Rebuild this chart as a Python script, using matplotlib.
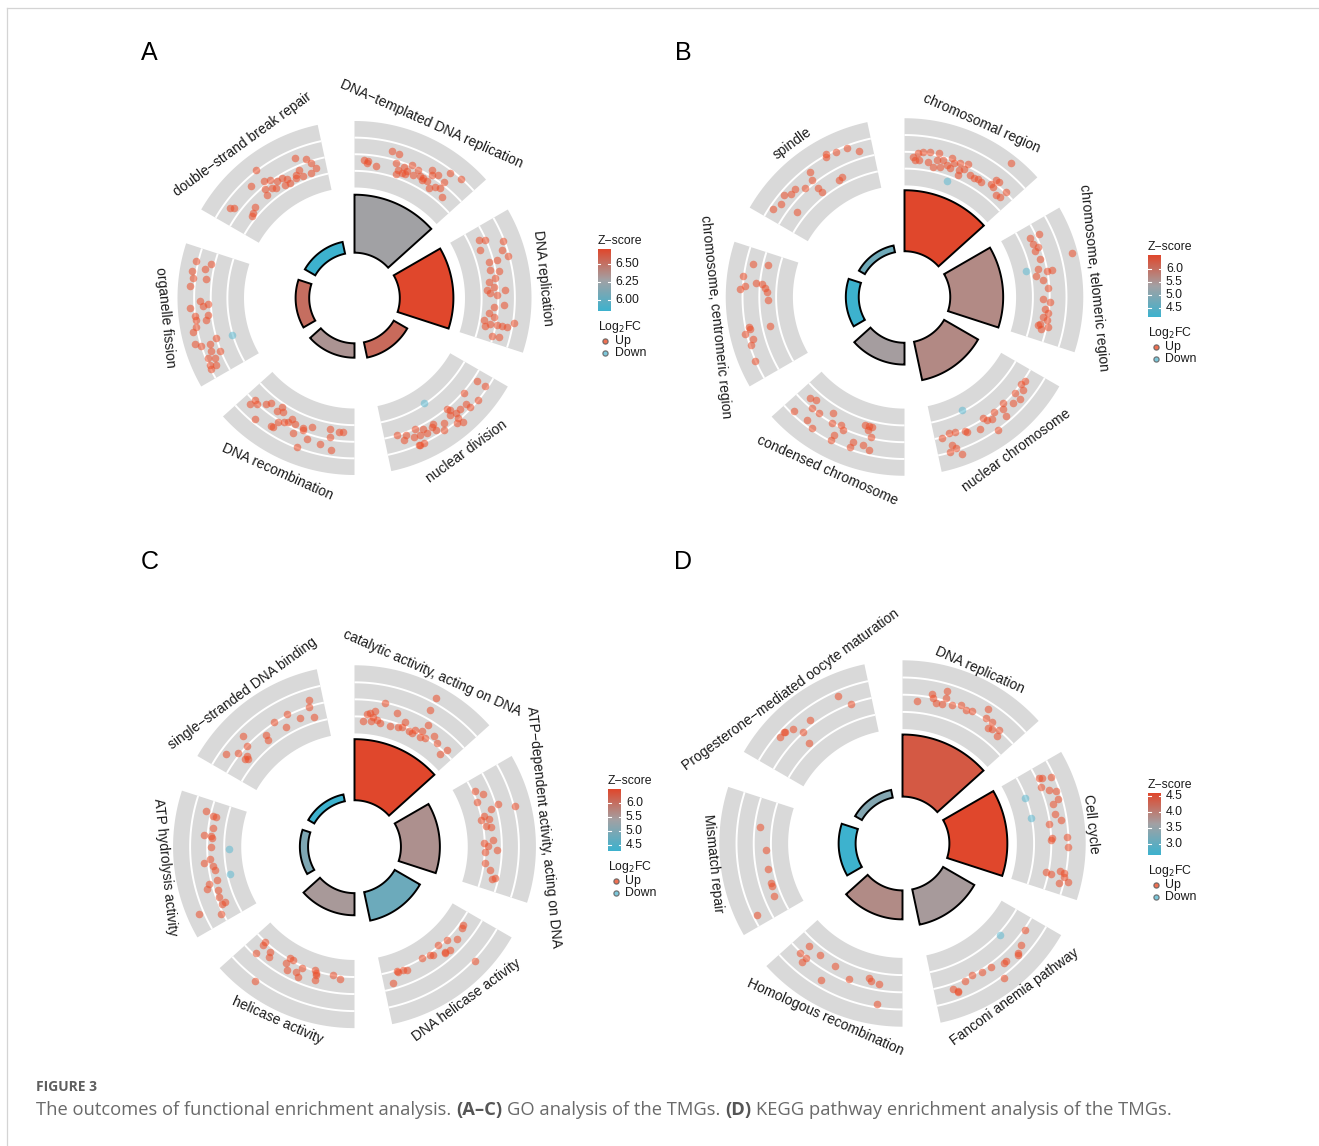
import numpy as np
import matplotlib
matplotlib.use("Agg")
import matplotlib.pyplot as plt
from matplotlib.patches import Polygon
from matplotlib.colors import LinearSegmentedColormap

plt.rcParams['font.family'] = ['Liberation Sans', 'DejaVu Sans']

W, H = 1319, 1146

# ---- panel A: GO (biological process) ----
terms_A = ["DNA\u2212templated DNA replication", "DNA replication", "nuclear division",
           "DNA recombination", "organelle fission", "double\u2212strand break repair"]
zscore_A = [6.27, 6.71, 6.54, 6.34, 6.52, 5.84]
bars_A = [14.5, 13.4, 3.9, 3.6, 3.4, 3.0]
up_A = [
    [(.08, .77), (.12, .66), (.11, .51), (.19, .39), (.30, 1.84), (.36, 1.79), (.36, 1.0), (.39, .52),
     (.43, .92), (.47, .64), (.43, .35), (.49, 1.31), (.46, .33), (.59, .74), (.62, .75), (.66, .65),
     (.62, .56), (.67, 1.35), (.71, 1.65), (.78, 1.44), (.71, .26), (.75, .69), (.85, .38), (.78, 2.34),
     (.87, 2.5), (.79, .83), (.39, .08), (.53, .6), (.55, 1.16), (.65, 1.7)],
    [(.10, .64), (.125, 1.15), (.19, .44), (.19, 2.51), (.25, 2.15), (.31, .8), (.31, 1.51), (.31, 2.52),
     (.38, .78), (.46, 1.07), (.48, .48), (.53, .85), (.58, .54), (.56, 1.8), (.60, 1.1), (.70, .84),
     (.68, 1.66), (.76, .47), (.79, .92), (.85, .73), (.85, 1.3), (.88, .38), (.85, 1.74), (.85, 2.15),
     (.81, 2.65), (.95, 1.15), (.94, 1.69), (.83, .13), (.40, 1.45), (.55, .28)],
    [(.085, 1.54), (.08, 2.37), (.20, 2.62), (.23, 1.3), (.28, 2.07), (.34, 1.97), (.28, 2.46), (.41, 1.51),
     (.42, 1.23), (.39, 2.0), (.51, 2.05), (.43, 2.72), (.39, 2.98), (.60, 1.75), (.67, 1.53), (.73, 1.22),
     (.59, 2.2), (.54, 2.5), (.66, 2.02), (.72, 1.9), (.82, 1.46), (.89, 1.19), (.85, 1.76), (.77, 1.8),
     (.58, 1.58), (.75, 2.66), (.72, 2.65), (.76, 2.6), (.43, 1.83), (.40, 2.49)],
    [(.18, 2.06), (.14, .46), (.22, .29), (.28, 1.7), (.38, .54), (.44, 1.04), (.39, 1.6), (.44, 2.54),
     (.51, 1.62), (.59, .94), (.62, 1.14), (.66, 1.35), (.67, 1.92), (.69, 2.0), (.83, .67), (.89, 1.23),
     (.82, 2.26), (.80, .41), (.72, .61), (.67, .42), (.57, .55), (.70, .14), (.92, 1.12), (.93, 1.61),
     (.21, .98), (.10, .41), (.45, .91), (.53, .8)],
    [(.90, 2.82), (.82, 3.0), (.77, 2.78), (.85, 1.92), (.78, 1.67), (.90, 1.48), (.71, 2.99), (.60, 2.12),
     (.58, 1.44), (.55, 2.98), (.49, 2.63), (.46, 2.53), (.49, 1.51), (.38, 2.97), (.29, 3.07), (.26, 2.62),
     (.26, 1.87), (.29, 1.21), (.20, 1.96), (.18, 1.26), (.16, 2.42), (.14, 1.91), (.11, 2.52), (.09, 2.02),
     (.08, 2.6), (.41, 2.62), (.45, 1.7), (.56, 1.87)],
    [(.12, 2.03), (.14, 1.76), (.21, .24), (.18, .17), (.26, .5), (.47, 2.68), (.36, 1.88), (.43, .94),
     (.41, .52), (.46, 1.56), (.51, 1.34), (.55, .91), (.60, .92), (.51, .45), (.63, .59), (.64, .21),
     (.72, .57), (.71, .32), (.77, 1.9), (.85, 1.47), (.88, 1.02), (.91, .5), (.85, .23), (.76, .89),
     (.77, .22), (.59, .3), (.48, .7)],
]
down_A = [[], [], [(.55, -.26)], [], [(.27, -.15)], []]

# ---- panel B: GO (cellular component) ----
terms_B = ["chromosomal region", "chromosome, telomeric region", "nuclear chromosome",
           "condensed chromosome", "chromosome, centromeric region", "spindle"]
zscore_B = [6.55, 5.65, 5.66, 5.40, 4.15, 4.75]
bars_B = [15.1, 13.1, 9.7, 5.4, 3.2, 1.7]
up_B = [
    [(.075, .82), (.11, 1.14), (.15, 1.32), (.21, 1.35), (.28, 1.41), (.09, .55), (.13, .59), (.21, .5),
     (.28, .83), (.33, .97), (.32, .36), (.37, .65), (.39, 1.31), (.42, .97), (.47, 1.17), (.53, 1.4),
     (.41, .48), (.48, .6), (.52, .9), (.59, .65), (.66, .69), (.70, .61), (.63, .55), (.78, .98),
     (.79, 1.46), (.81, .84), (.82, 1.52), (.875, .49), (.92, 1.27), (.91, .58), (.80, 3.33), (.26, .23),
     (.49, .17)],
    [(.10, .65), (.10, 1.52), (.16, .68), (.20, .97), (.22, .61), (.30, .8), (.38, .47), (.41, 1.13),
     (.41, 1.57), (.48, .75), (.55, 1.1), (.64, .66), (.67, 1.23), (.73, .84), (.76, 1.15), (.82, 1.1),
     (.86, .6), (.90, .82), (.87, 1.33), (.32, 3.49), (.44, .23), (.875, .49), (.80, .78)],
    [(.10, 1.31), (.14, 1.25), (.23, 1.26), (.17, 1.62), (.36, 1.14), (.30, 1.78), (.24, 1.94), (.46, 1.21),
     (.39, 1.55), (.51, 1.63), (.56, 1.1), (.63, 1.77), (.52, 2.63), (.55, 1.45), (.74, 1.35), (.82, 1.12),
     (.87, 1.05), (.94, 1.27), (.88, 2.05), (.91, 2.54), (.83, 3.01), (.86, 2.42), (.73, 1.53), (.41, 2.16)],
    [(.90, .6), (.85, .43), (.83, 1.14), (.76, 1.12), (.66, .5), (.92, 2.37), (.80, 2.16), (.73, 2.47),
     (.62, 1.21), (.55, 1.01), (.52, 1.32), (.36, .28), (.32, .29), (.29, .22), (.32, .6), (.28, 1.07),
     (.56, 2.01), (.57, 2.5), (.41, 1.9), (.33, 1.92), (.42, 2.39), (.27, 2.19)],
    [(.88, 2.02), (.90, .78), (.78, 2.67), (.71, 2.45), (.68, 2.85), (.74, 1.5), (.73, 1.06), (.70, .77),
     (.67, .53), (.60, .47), (.40, 2.32), (.38, 2.28), (.35, 2.77), (.30, 2.19), (.26, 2.48), (.37, .58),
     (.14, 2.69)],
    [(.08, 2.26), (.15, 1.98), (.21, 2.26), (.26, 1.87), (.30, 1.92), (.17, .52), (.37, 1.38), (.48, 2.18),
     (.45, 1.5), (.45, .69), (.46, .23), (.65, 2.68), (.64, 2.46), (.72, 2.44), (.81, 2.37), (.89, 1.88),
     (.64, .29), (.68, .37)],
]
down_B = [[(.42, -.61)], [(.37, -.5)], [(.69, -.34)], [], [], []]

# ---- panel C: GO (molecular function) ----
terms_C = ["catalytic activity, acting on DNA", "ATP\u2212dependent activity, acting on DNA",
           "DNA helicase activity", "helicase activity", "ATP hydrolysis activity",
           "single\u2212stranded DNA binding"]
zscore_C = [6.50, 5.60, 4.80, 5.49, 5.00, 4.29]
bars_C = [14.9, 9.5, 7.1, 5.4, 2.0, 1.7]
up_C = [
    [(.08, -.52), (.11, .05), (.14, .13), (.17, -.11), (.21, -.33), (.24, -.55), (.16, -.52), (.18, .4),
     (.25, 1.13), (.37, .59), (.42, -.45), (.46, .18), (.45, -.3), (.52, -.39), (.56, -.47), (.57, -.15),
     (.64, -.38), (.69, -.27), (.63, .05), (.65, .79), (.60, 1.91), (.60, 3.01), (.74, .27), (.80, -.05),
     (.89, -.5), (.91, .08), (.34, -.56)],
    [(.11, -.01), (.16, .49), (.21, -.23), (.28, 1.41), (.33, 2.7), (.30, .7), (.35, .02), (.38, .4),
     (.38, -.29), (.44, .05), (.45, .44), (.57, .52), (.62, .09), (.65, .78), (.67, -.17), (.77, -.09),
     (.83, .4), (.90, .68), (.89, .93), (.59, -.3)],
    [(.12, .08), (.15, .17), (.25, .38), (.32, -.12), (.41, -.28), (.36, .66), (.40, .49), (.41, .6),
     (.50, .11), (.52, -.05), (.60, -.19), (.28, 2.77), (.77, .1), (.80, -.05), (.85, -.01), (.86, -.1),
     (.92, .76)],
    [(.90, -.11), (.89, .12), (.89, .98), (.81, .18), (.79, .58), (.625, -.31), (.63, .19), (.59, -.32),
     (.49, .0), (.52, .42), (.60, .67), (.49, .73), (.37, -.26), (.35, -.04), (.34, .53), (.35, .1),
     (.20, -.2), (.13, -.01), (.76, 2.86)],
    [(.91, 1.64), (.88, .97), (.88, .76), (.78, .79), (.72, 1.5), (.71, .91), (.625, .86), (.52, 1.0),
     (.50, 1.52), (.46, .81), (.43, .71), (.34, .7), (.325, 1.41), (.29, 1.73), (.26, .84), (.20, .93),
     (.14, .96), (.14, .69), (.07, 1.37), (.14, 3.03), (.70, .85)],
    [(.12, 2.09), (.18, 1.4), (.18, .58), (.21, .63), (.27, 1.21), (.31, 2.03), (.45, .8), (.44, .4),
     (.57, 1.29), (.63, .4), (.69, 1.33), (.77, .58), (.89, 1.72), (.875, 1.18), (.89, .28), (.20, .44)],
]
down_C = [[], [], [], [], [(.60, -.58), (.37, -.48)], []]

# ---- panel D: KEGG ----
terms_D = ["DNA replication", "Cell cycle", "Fanconi anemia pathway", "Homologous recombination",
           "Mismatch repair", "Progesterone\u2212mediated oocyte maturation"]
zscore_D = [4.38, 4.57, 3.68, 3.84, 2.64, 3.31]
bars_D = [15.0, 14.0, 8.7, 7.0, 4.1, 1.9]
up_D = [
    [(.12, .77), (.23, 1.47), (.25, 1.16), (.28, .87), (.33, .93), (.34, 2.06), (.35, 1.46), (.41, 1.05),
     (.48, 1.36), (.53, 1.16), (.575, 1.26), (.675, 2.07), (.70, 1.31), (.76, 1.35), (.76, .77), (.79, .92),
     (.84, 1.26), (.86, .74)],
    [(.09, 1.42), (.10, 1.66), (.12, 2.34), (.165, 1.22), (.21, 1.81), (.23, 2.31), (.29, 2.25), (.32, 1.73),
     (.40, 1.72), (.45, 2.15), (.47, 1.08), (.58, 1.23), (.60, 1.16), (.575, 2.47), (.65, 2.54), (.86, 1.04),
     (.87, 1.47), (.83, 2.07), (.84, 2.49), (.87, 2.5), (.92, 2.19), (.90, 2.89)],
    [(.11, 1.32), (.22, 1.78), (.28, 2.0), (.29, 2.18), (.39, 1.87), (.41, 1.84), (.51, 1.49), (.59, 1.39),
     (.67, 1.23), (.74, 1.43), (.48, 2.78), (.85, 1.6), (.82, 1.93), (.82, 2.0)],
    [(.88, .38), (.90, 1.32), (.835, 1.32), (.84, 1.79), (.76, .41), (.60, .45), (.45, .94), (.29, .33),
     (.27, .54), (.20, .71), (.64, 2.06), (.19, 2.31)],
    [(.76, .76), (.57, .23), (.40, .22), (.28, .27), (.25, .3), (.16, .39), (.08, 2.28)],
    [(.23, 2.34), (.275, 2.29), (.28, 2.3), (.34, 2.01), (.38, 1.23), (.48, 1.65), (.36, .26), (.76, 2.15),
     (.83, 1.22)],
]
down_D = [[], [(.20, -.24), (.39, -.21)], [(.275, -.07)], [], [], []]

ticks_A = [6.00, 6.25, 6.50]
ticks_B = [4.5, 5.0, 5.5, 6.0]
ticks_C = [4.5, 5.0, 5.5, 6.0]
ticks_D = [3.0, 3.5, 4.0, 4.5]

# geometry (pixels)
SPAN = 48.0
HOLE, BAND_IN, BAND_OUT = 45.3, 110.5, 177.0
BAR_UNIT = 4.0
LFC_LO, LFC_HI = -1.6, 4.0
LABEL_R = 190
UP_COL, DOWN_COL = '#EC4D28', '#5DB9D1'
cmap = LinearSegmentedColormap.from_list('zs', ['#3DB2CE', '#A2A1A4', '#E0472C'])

fig = plt.figure(figsize=(W / 100, H / 100), dpi=100)
ax = fig.add_axes([0, 0, 1, 1])
ax.set_xlim(0, W)
ax.set_ylim(H, 0)
ax.axis('off')


def arc(cx, cy, r, t0, t1, n=80):
    t = np.radians(np.linspace(t0, t1, n))
    return np.column_stack([cx + r * np.sin(t), cy - r * np.cos(t)])


def ring(cx, cy, r0, r1, t0, t1):
    return np.vstack([arc(cx, cy, r1, t0, t1), arc(cx, cy, r0, t1, t0)])


def circle_panel(cx, cy, k, terms, zs, bars, ups, downs):
    zmin, zmax = min(zs), max(zs)
    b_in, b_out = BAND_IN * k, BAND_OUT * k
    for i, term in enumerate(terms):
        t0 = i * 60.0
        t1 = t0 + SPAN
        ax.add_patch(Polygon(ring(cx, cy, b_in, b_out, t0, t1), closed=True,
                             fc='#D9D9D9', ec='none', zorder=1))
        for j in (1, 2, 3):
            xy = arc(cx, cy, b_in + j * (b_out - b_in) / 4, t0, t1)
            ax.plot(xy[:, 0], xy[:, 1], color='white', lw=1.4, zorder=2, solid_capstyle='butt')
        for pts, col in ((ups[i], UP_COL), (downs[i], DOWN_COL)):
            if not pts:
                continue
            p = np.array(pts)
            th = np.radians(t0 + p[:, 0] * SPAN)
            rr = b_in + (p[:, 1] - LFC_LO) / (LFC_HI - LFC_LO) * (b_out - b_in)
            ax.scatter(cx + rr * np.sin(th), cy - rr * np.cos(th), s=30, color=col,
                       alpha=0.55, lw=0, zorder=3)
        top = (HOLE + bars[i] * BAR_UNIT) * k
        ax.add_patch(Polygon(ring(cx, cy, HOLE * k, top, t0, t1), closed=True,
                             fc=cmap((zs[i] - zmin) / (zmax - zmin)), ec='black',
                             lw=1.4, joinstyle='miter', zorder=4))
        tc = t0 + SPAN / 2
        rot = 180 - tc if 90 < tc < 270 else -tc
        a = np.radians(tc)
        ax.text(cx + LABEL_R * np.sin(a), cy - LABEL_R * np.cos(a), term, rotation=rot,
                rotation_mode='anchor', ha='center', va='center', fontsize=10, color='#1A1A1A')


def legend(x, y0, zs, ticks, fmt):
    zmin, zmax = min(zs), max(zs)
    bw, bh = 13, 62
    y1 = y0 + bh
    ax.text(x, y0 - 8, 'Z\u2212score', fontsize=8.8, ha='left', va='center', color='#1A1A1A')
    grad = np.linspace(1, 0, 200)[:, None]
    ax.imshow(grad, cmap=cmap, extent=(x, x + bw, y1, y0), aspect='auto', zorder=2,
              interpolation='bilinear')
    for v in ticks:
        ty = y1 - (v - zmin) / (zmax - zmin) * bh
        ax.plot([x, x + 2.5], [ty, ty], color='white', lw=0.8, zorder=3)
        ax.plot([x + bw - 2.5, x + bw], [ty, ty], color='white', lw=0.8, zorder=3)
        ax.text(x + bw + 5, ty, fmt % v, fontsize=8.8, ha='left', va='center', color='#1A1A1A')
    ax.text(x, y1 + 16, 'Log$_2$FC', fontsize=8.8, ha='left', va='center', color='#1A1A1A')
    for dy, col, name in ((30, UP_COL, 'Up'), (42, DOWN_COL, 'Down')):
        ax.scatter([x + 7.5], [y1 + dy], s=14, facecolor=col, edgecolor='#5A5A5A',
                   lw=0.9, alpha=0.8, zorder=3)
        ax.text(x + 17, y1 + dy, name, fontsize=8.8, ha='left', va='center', color='#1A1A1A')


circle_panel(354.5, 298.0, 1.0, terms_A, zscore_A, bars_A, up_A, down_A)
circle_panel(904.5, 297.0, 1.01, terms_B, zscore_B, bars_B, up_B, down_B)
circle_panel(354.5, 846.7, 1.025, terms_C, zscore_C, bars_C, up_C, down_C)
circle_panel(902.5, 843.5, 1.035, terms_D, zscore_D, bars_D, up_D, down_D)

legend(597.5, 249.3, zscore_A, ticks_A, '%.2f')
legend(1148.0, 255.0, zscore_B, ticks_B, '%.1f')
legend(608.0, 789.3, zscore_C, ticks_C, '%.1f')
legend(1148.0, 793.3, zscore_D, ticks_D, '%.1f')

for letter, lx, ly in (('A', 149, 53), ('B', 683, 53), ('C', 150, 562), ('D', 683, 562)):
    ax.text(lx, ly, letter, fontsize=18, ha='center', va='center', color='black')

ax.set_xlim(0, W)
ax.set_ylim(H, 0)

# frame lines of the figure card
ax.plot([7, W], [8, 8], color='#D4D4D4', lw=0.9)
ax.plot([7, 7], [8, H], color='#D4D4D4', lw=0.9)

# caption
cap_font = ['Open Sans', 'DejaVu Sans']
ax.text(36, 1087, 'FIGURE 3', fontsize=10, fontweight='bold', color='#5F5F5F',
        family=cap_font, ha='left', va='center')
pieces = [("The outcomes of functional enrichment analysis.", 'normal'),
          ("(A\u2013C)", 'bold'), ("GO analysis of the TMGs.", 'normal'),
          ("(D)", 'bold'), ("KEGG pathway enrichment analysis of the TMGs.", 'normal')]
renderer = fig.canvas.get_renderer()
sp = ax.text(0, -50, 'a a', fontsize=13.2, family=cap_font)
sp2 = ax.text(0, -50, 'aa', fontsize=13.2, family=cap_font)
space_w = sp.get_window_extent(renderer).width - sp2.get_window_extent(renderer).width
sp.remove()
sp2.remove()
cx0 = 36.0
for txt, wt in pieces:
    t = ax.text(cx0, 1110, txt, fontsize=13.2, fontweight=wt,
                color='#555555' if wt == 'bold' else '#6A6A6A',
                family=cap_font, ha='left', va='center')
    cx0 += t.get_window_extent(renderer).width + space_w

fig.savefig('out.png', dpi=100)
